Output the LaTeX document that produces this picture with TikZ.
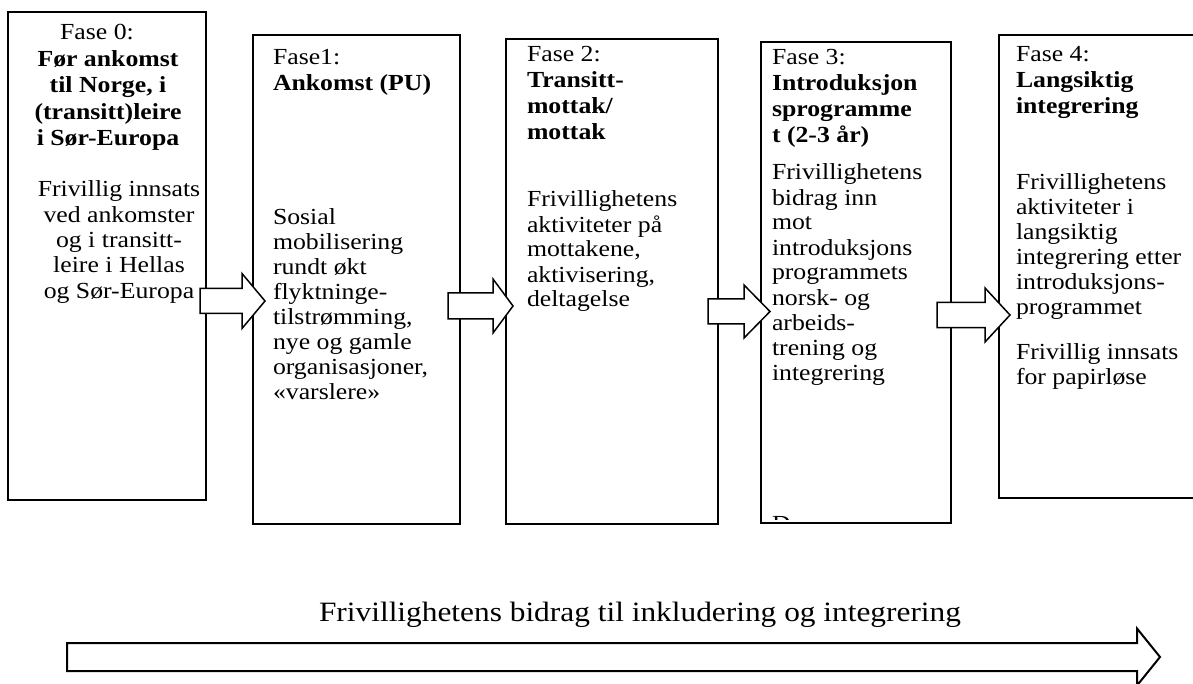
\documentclass[tikz,border=0pt]{standalone}
\usepackage{fontspec}
\setmainfont[FakeStretch=1.12]{Liberation Serif}
\usetikzlibrary{calc}
\tikzset{
  phasebox/.style={draw=black, line width=2pt, inner sep=0pt, outer sep=0pt, anchor=north west},
  hdrtxt/.style={inner sep=0pt, outer sep=0pt, font=\fontsize{23}{26}\selectfont, align=left, anchor=north west},
  bodytxt/.style={inner sep=0pt, outer sep=0pt, font=\fontsize{23}{25}\selectfont, align=left, anchor=north west},
  blockarrow/.style={draw=black, line width=1.5pt, fill=white, line join=miter},
  bigarrow/.style={draw=black, line width=2pt, fill=white, line join=miter},
}
% name-free helper: x0, head base x, tip x, centre y, shaft half, head half
\newcommand\blockarr[7][blockarrow]{%
  \draw[#1] (#2,#5-#6) -- (#3,#5-#6) -- (#3,#5-#7) -- (#4,#5) -- (#3,#5+#7)
    -- (#3,#5+#6) -- (#2,#5+#6) -- cycle;}
\begin{document}
\begin{tikzpicture}[x=1pt,y=-1pt]
\useasboundingbox (0,0) rectangle (1193,684);

% phase boxes
\node[phasebox, minimum width=198pt, minimum height=488pt] (box0) at (8,12) {};
\node[phasebox, minimum width=207pt, minimum height=489pt] (box1) at (253,35) {};
\node[phasebox, minimum width=212pt, minimum height=485pt] (box2) at (506,39) {};
\node[phasebox, minimum width=190pt, minimum height=481pt] (box3) at (761,42) {};
\node[inner sep=0pt, outer sep=0pt, anchor=north west, minimum width=196pt, minimum height=463pt] (box4) at (999,35) {};
\draw[line width=2pt] (box4.north east) -- (box4.north west) -- (box4.south west) -- (box4.south east);

% box 0 texts
\node[hdrtxt, align=center, anchor=north, font=\fontsize{23}{26.5}\selectfont] (h0) at (108,24)
  {\rule{0pt}{16pt}Fase 0:\hspace*{22pt}\\ \textbf{Før ankomst}\\ \textbf{til Norge, i}\\ \textbf{(transitt)leire}\\ \textbf{i Sør-Europa}};
\node[bodytxt, align=center, anchor=north, font=\fontsize{23}{25.3}\selectfont] (b0) at (119,181)
  {\rule{0pt}{16pt}Frivillig innsats\\ ved ankomster\\ og i transitt-\\ leire i Hellas\\ og Sør-Europa};

% box 1 texts
\node[hdrtxt] (h1) at (273,49) {\rule{0pt}{16pt}Fase1:\\ \textbf{Ankomst (PU)}};
\node[bodytxt] (b1) at (273,208) {\rule{0pt}{16pt}Sosial\\ mobilisering\\ rundt økt\\ flyktninge-\\ tilstrømming,\\ nye og gamle\\ organisasjoner,\\ «varslere»};

% box 2 texts
\node[hdrtxt] (h2) at (527,46) {\rule{0pt}{16pt}Fase 2:\\ \textbf{Transitt-}\\ \textbf{mottak/}\\ \textbf{mottak}};
\node[bodytxt] (b2) at (527,191) {\rule{0pt}{16pt}Frivillighetens\\ aktiviteter på\\ mottakene,\\ aktivisering,\\ deltagelse};

% box 3 texts
\node[hdrtxt] (h3) at (772,49) {\rule{0pt}{16pt}Fase 3:\\ \textbf{Introduksjon}\\ \textbf{sprogramme}\\ \textbf{t (2-3 år)}};
\node[bodytxt] (b3) at (772,164) {\rule{0pt}{16pt}Frivillighetens\\ bidrag inn\\ mot\\ introduksjons\\ programmets\\ norsk- og\\ arbeids-\\ trening og\\ integrering};
\begin{scope}
  \clip (762,480) rectangle (950,519);
  \node[inner sep=0pt, outer sep=0pt, anchor=base west, font=\fontsize{23}{25}\selectfont] (d3) at (772,531.5) {D};
\end{scope}

% box 4 texts
\node[hdrtxt] (h4) at (1016,46) {\rule{0pt}{16pt}Fase 4:\\ \textbf{Langsiktig}\\ \textbf{integrering}};
\node[bodytxt] (b4) at (1016,174) {\rule{0pt}{16pt}Frivillighetens\\ aktiviteter i\\ langsiktig\\ integrering etter\\ introduksjons-\\ programmet};
\node[bodytxt] (c4) at (1016,343) {\rule{0pt}{16pt}Frivillig innsats\\ for papirløse};

% block arrows between phases
\blockarr{200}{242}{265}{301}{12.5}{27.5}
\blockarr{448}{493}{513}{306}{13}{27}
\blockarr{708}{744}{770}{311.5}{12.5}{26.5}
\blockarr{937}{985}{1010}{315}{12.5}{27}

% bottom label and long arrow
\node[inner sep=0pt, outer sep=0pt, anchor=base, font=\fontsize{28}{30}\selectfont] (lbl) at (640,621)
  {Frivillighetens bidrag til inkludering og integrering};
\blockarr[bigarrow]{67}{1137}{1160}{657}{14}{28.5}
\end{tikzpicture}
\end{document}
